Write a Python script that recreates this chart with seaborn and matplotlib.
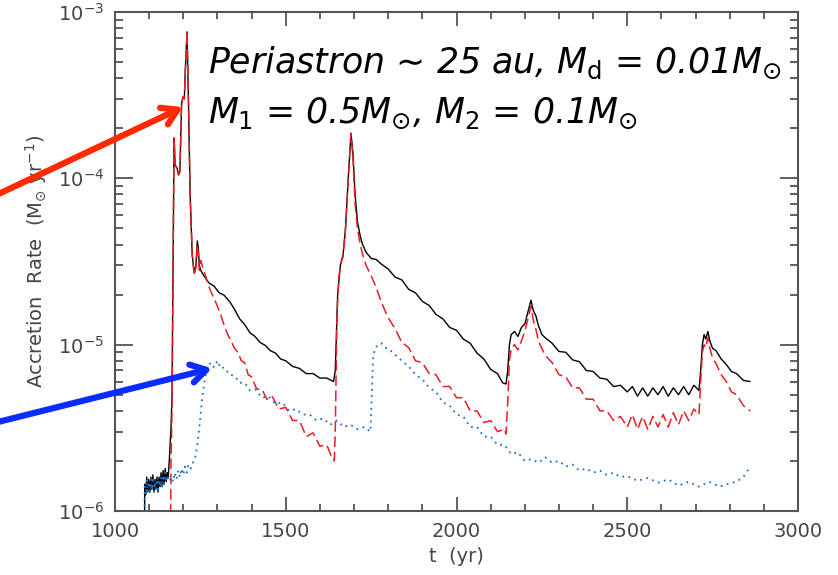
import numpy as np
import pandas as pd
import matplotlib
matplotlib.use("Agg")
import matplotlib.pyplot as plt
import seaborn as sns

# ---------------- data ----------------
t_total = [1085, 1087, 1090, 1093, 1096, 1099, 1102, 1105, 1108, 1111, 1114, 1117, 1120, 1123, 1126,
           1129, 1132, 1135, 1138, 1141, 1144, 1147, 1150, 1153, 1156, 1160, 1164, 1167, 1170, 1173,
           1176, 1182, 1186, 1190, 1195, 1199, 1203, 1206, 1211, 1215, 1220, 1226, 1232, 1237, 1241,
           1244, 1247, 1251, 1260, 1275, 1290, 1305, 1320, 1337, 1350, 1365, 1380, 1395, 1410, 1425,
           1440, 1455, 1470, 1485, 1500, 1520, 1540, 1560, 1580, 1600, 1620, 1640,
           1645, 1652, 1660, 1668, 1675, 1683, 1691, 1697, 1703, 1710, 1718, 1725, 1735, 1750, 1765,
           1780, 1800, 1820, 1840, 1860, 1880, 1900, 1920, 1940, 1960, 1980, 2000, 2020, 2040, 2060,
           2080, 2100, 2120, 2135, 2145,
           2150, 2155, 2160, 2170, 2180, 2190, 2200, 2210, 2218, 2225, 2232, 2240, 2250, 2260, 2280,
           2300, 2320, 2340, 2360, 2380, 2400, 2420, 2440, 2460, 2480, 2500, 2515, 2530, 2545, 2560,
           2575, 2590, 2605, 2620, 2635, 2650, 2665, 2680, 2695, 2710,
           2715, 2720, 2725, 2730, 2736, 2742, 2750, 2760, 2775, 2790, 2805, 2820, 2840, 2860]
rate_total = [1e-7, 1.45e-6, 1.25e-6, 1.6e-6, 1.3e-6, 1.55e-6, 1.3e-6, 1.6e-6, 1.35e-6, 1.65e-6, 1.3e-6,
              1.55e-6, 1.35e-6, 1.6e-6, 1.3e-6, 1.6e-6, 1.4e-6, 1.7e-6, 1.4e-6, 1.75e-6, 1.45e-6, 1.8e-6,
              1.5e-6, 1.7e-6, 1.6e-6, 2.2e-6, 3.2e-6, 5e-6, 3e-5, 1.75e-4,
              1.2e-4, 1.15e-4, 1.05e-4, 1.1e-4, 2.8e-4, 3.1e-4, 3.0e-4, 4.5e-4, 7.6e-4, 3e-4, 8e-5,
              3.5e-5, 2.7e-5, 3.0e-5, 4.2e-5, 3.8e-5, 3.0e-5, 2.8e-5, 2.6e-5, 2.35e-5, 2.25e-5, 2.05e-5,
              1.98e-5, 1.8e-5, 1.63e-5, 1.43e-5, 1.32e-5, 1.18e-5, 1.12e-5, 1.03e-5, 9.9e-6, 9.2e-6,
              8.9e-6, 8.2e-6, 8.0e-6, 7.4e-6, 7.2e-6, 6.7e-6, 6.7e-6, 6.3e-6, 6.3e-6, 6.0e-6,
              7e-6, 2.0e-5, 3.0e-5, 3.5e-5, 5e-5, 1.0e-4, 1.87e-4, 1.4e-4, 8e-5, 5.5e-5, 4.5e-5, 4.0e-5,
              3.6e-5, 3.3e-5, 3.25e-5, 3.05e-5, 2.85e-5, 2.55e-5, 2.45e-5, 2.15e-5, 2.05e-5, 1.82e-5,
              1.72e-5, 1.52e-5, 1.43e-5, 1.27e-5, 1.22e-5, 1.08e-5, 1.02e-5, 8.9e-6, 8.2e-6, 7.1e-6,
              6.7e-6, 5.9e-6, 5.8e-6,
              7e-6, 1.0e-5, 1.15e-5, 1.2e-5, 1.12e-5, 1.27e-5, 1.33e-5, 1.6e-5, 1.85e-5, 1.6e-5,
              1.5e-5, 1.3e-5, 1.15e-5, 1.1e-5, 1.02e-5, 9.1e-6, 9.0e-6, 8.1e-6, 7.9e-6, 7.0e-6, 6.9e-6,
              6.3e-6, 6.2e-6, 5.6e-6, 5.7e-6, 5.2e-6, 5.6e-6, 4.9e-6, 5.5e-6, 4.9e-6, 5.5e-6, 5.0e-6,
              5.6e-6, 4.9e-6, 5.5e-6, 5.0e-6, 5.6e-6, 5.0e-6, 5.7e-6, 5.3e-6,
              7e-6, 1.0e-5, 1.15e-5, 1.08e-5, 1.2e-5, 1.05e-5, 9.5e-6, 9.2e-6, 8.2e-6, 7.6e-6, 6.9e-6,
              6.7e-6, 6.1e-6, 6.0e-6]

t_star1 = [1160, 1164, 1167, 1170, 1173, 1176, 1182, 1186, 1190, 1195, 1199, 1203, 1206, 1211, 1215,
           1220, 1226, 1232, 1237, 1241, 1244, 1247, 1251, 1260, 1270, 1280, 1290, 1300, 1310, 1320,
           1330, 1340, 1350, 1360, 1370, 1380, 1390, 1400, 1415, 1430, 1445, 1460, 1480, 1500, 1520,
           1540, 1560, 1580, 1600, 1620, 1635, 1642,
           1645, 1650, 1655, 1660, 1668, 1675, 1683, 1691, 1697, 1703, 1710, 1718, 1725, 1735, 1750,
           1765, 1780, 1800, 1820, 1840, 1860, 1880, 1900, 1920, 1940, 1960, 1980, 2000, 2020, 2040,
           2060, 2080, 2100, 2120, 2140, 2145,
           2150, 2155, 2160, 2170, 2180, 2190, 2200, 2210, 2218, 2225, 2232, 2240, 2250, 2260, 2280,
           2300, 2320, 2340, 2360, 2380, 2400, 2420, 2440, 2460, 2480, 2500, 2515, 2530, 2545, 2560,
           2575, 2590, 2605, 2620, 2635, 2650, 2665, 2680, 2695, 2710,
           2715, 2720, 2725, 2730, 2736, 2742, 2750, 2760, 2775, 2790, 2805, 2820, 2840, 2860]
rate_star1 = [1e-7, 2e-6, 4e-6, 3e-5, 1.75e-4, 1.2e-4, 1.15e-4, 1.05e-4, 1.1e-4, 2.8e-4, 3.1e-4,
              3.0e-4, 4.5e-4, 7.6e-4, 3e-4, 8e-5, 3.5e-5, 2.6e-5, 2.9e-5, 4.0e-5, 3.5e-5, 2.8e-5,
              3.2e-5, 2.8e-5, 2.4e-5, 2.1e-5, 1.9e-5, 1.7e-5, 1.5e-5, 1.3e-5, 1.15e-5, 1.05e-5,
              9.5e-6, 9.0e-6, 8.0e-6, 7.8e-6, 6.6e-6, 6.4e-6, 5.4e-6, 5.4e-6, 4.7e-6, 4.9e-6, 4.1e-6,
              4.2e-6, 3.5e-6, 3.5e-6, 2.8e-6, 2.95e-6, 2.45e-6, 2.5e-6, 2.1e-6, 2.0e-6,
              3e-6, 1.5e-5, 2.5e-5, 3.0e-5, 3.4e-5, 5e-5, 1.0e-4, 1.85e-4, 1.3e-4, 7e-5, 5e-5, 4e-5,
              3.5e-5, 3.0e-5, 2.6e-5, 2.2e-5, 1.8e-5, 1.45e-5, 1.25e-5, 1.03e-5, 9.6e-6, 8.0e-6,
              7.8e-6, 6.7e-6, 6.6e-6, 5.6e-6, 5.6e-6, 4.8e-6, 4.8e-6, 4.0e-6, 4.0e-6, 3.4e-6, 3.5e-6,
              3.0e-6, 3.1e-6, 2.9e-6,
              4.5e-6, 8e-6, 9.5e-6, 1.0e-5, 9.3e-6, 1.05e-5, 1.2e-5, 1.45e-5, 1.7e-5, 1.4e-5, 1.25e-5,
              1.05e-5, 9.5e-6, 8.6e-6, 7.8e-6, 6.6e-6, 6.4e-6, 5.5e-6, 5.5e-6, 4.7e-6, 4.7e-6, 4.0e-6,
              4.0e-6, 3.5e-6, 3.7e-6, 3.2e-6, 3.8e-6, 3.1e-6, 3.7e-6, 3.1e-6, 3.7e-6, 3.2e-6, 3.8e-6,
              3.2e-6, 3.9e-6, 3.3e-6, 4.0e-6, 3.5e-6, 4.1e-6, 3.8e-6,
              6e-6, 9e-6, 1.0e-5, 9.6e-6, 1.1e-5, 9.5e-6, 8.3e-6, 7.7e-6, 6.6e-6, 6.0e-6, 5.2e-6,
              5.0e-6, 4.3e-6, 4.0e-6]

t_star2 = [1085, 1087, 1090, 1093, 1096, 1099, 1102, 1105, 1108, 1111, 1114, 1117, 1120, 1123, 1126,
           1129, 1132, 1135, 1138, 1141, 1144, 1147, 1150, 1153, 1156, 1160, 1165, 1170, 1175, 1180,
           1185, 1190, 1195, 1200, 1205, 1210, 1215, 1222, 1228, 1235, 1240, 1244, 1249, 1255, 1262,
           1270, 1280, 1290, 1300, 1310, 1320, 1335, 1350, 1365, 1380, 1395, 1410, 1430, 1450, 1470,
           1490, 1510, 1530, 1550, 1570, 1590, 1610, 1630, 1650, 1670, 1690, 1710, 1730, 1748,
           1752, 1756, 1762, 1770, 1780, 1790, 1800, 1820, 1840, 1860, 1880, 1900, 1920, 1940, 1960,
           1980, 2000, 2020, 2040, 2060, 2080, 2100, 2120, 2140, 2160, 2180, 2200, 2220, 2240, 2260,
           2280, 2300, 2320, 2340, 2360, 2380, 2400, 2420, 2440, 2460, 2480, 2500, 2530, 2560, 2590,
           2620, 2650, 2680, 2710, 2740, 2770, 2800, 2820, 2840, 2860]
rate_star2 = [1e-7, 1.4e-6, 1.25e-6, 1.55e-6, 1.3e-6, 1.5e-6, 1.3e-6, 1.55e-6, 1.35e-6, 1.6e-6, 1.3e-6,
              1.5e-6, 1.35e-6, 1.55e-6, 1.3e-6, 1.55e-6, 1.4e-6, 1.6e-6, 1.4e-6, 1.65e-6, 1.45e-6,
              1.7e-6, 1.5e-6, 1.65e-6, 1.55e-6, 1.5e-6, 1.6e-6, 1.5e-6, 1.7e-6, 1.55e-6, 1.75e-6,
              1.6e-6, 1.8e-6, 1.65e-6, 1.85e-6, 1.7e-6, 1.9e-6, 1.8e-6, 1.95e-6, 2.1e-6, 2.4e-6,
              2.8e-6, 3.5e-6, 4.7e-6, 6e-6, 7.3e-6, 7.8e-6, 7.3e-6, 8.0e-6, 7.2e-6, 7.3e-6, 6.6e-6,
              6.5e-6, 5.9e-6, 5.9e-6, 5.3e-6, 5.4e-6, 4.8e-6, 4.9e-6, 4.4e-6, 4.5e-6, 4.0e-6, 4.1e-6,
              3.8e-6, 3.8e-6, 3.5e-6, 3.6e-6, 3.3e-6, 3.5e-6, 3.2e-6, 3.3e-6, 3.1e-6, 3.2e-6, 3.0e-6,
              5e-6, 8.5e-6, 9.5e-6, 1.0e-5, 1.02e-5, 9.6e-6, 9.5e-6, 8.7e-6, 8.0e-6, 7.4e-6, 6.6e-6,
              6.2e-6, 5.5e-6, 5.2e-6, 4.5e-6, 4.3e-6, 3.8e-6, 3.7e-6, 3.2e-6, 3.2e-6, 2.8e-6, 2.8e-6,
              2.5e-6, 2.5e-6, 2.2e-6, 2.25e-6, 2.0e-6, 2.05e-6, 1.95e-6, 2.1e-6, 1.95e-6, 2.0e-6,
              1.85e-6, 1.9e-6, 1.75e-6, 1.8e-6, 1.7e-6, 1.75e-6, 1.65e-6, 1.7e-6, 1.6e-6, 1.62e-6,
              1.52e-6, 1.58e-6, 1.48e-6, 1.55e-6, 1.42e-6, 1.5e-6, 1.4e-6, 1.5e-6, 1.4e-6, 1.47e-6,
              1.5e-6, 1.6e-6, 1.85e-6]

x_ticks = [1000, 1500, 2000, 2500, 3000]
annot_line1 = r"Periastron ∼ 25 au, $M_{\rm d}$ = 0.01$M_{\odot}$"
annot_line2 = r"$M_{\it 1}$ = 0.5$M_{\odot}$, $M_{\it 2}$ = 0.1$M_{\odot}$"
x_label = "t  (yr)"
y_label = r"Accretion  Rate  (M$_{\odot}$ yr$^{-1}$)"

# ---------------- figure ----------------
sns.set_theme(style="ticks")
plt.rcParams["font.family"] = ["DejaVu Sans"]
plt.rcParams["mathtext.fontset"] = "dejavusans"

fig = plt.figure(figsize=(8.38, 5.75), dpi=100)
ax = fig.add_axes([115 / 838, 1 - 511 / 575, (798 - 115) / 838, (511 - 12) / 575])

df_tot = pd.DataFrame({"t": t_total, "rate": rate_total})
df_s1 = pd.DataFrame({"t": t_star1, "rate": rate_star1})
df_s2 = pd.DataFrame({"t": t_star2, "rate": rate_star2})

sns.lineplot(data=df_tot, x="t", y="rate", ax=ax, color="black", lw=1.0, estimator=None, sort=False)
sns.lineplot(data=df_s1, x="t", y="rate", ax=ax, color="#ea1c24", lw=1.1, estimator=None, sort=False,
             dashes=False)
ax.lines[-1].set_dashes([7, 3])
sns.lineplot(data=df_s2, x="t", y="rate", ax=ax, color="#1f6fc8", lw=1.3, estimator=None, sort=False)
ax.lines[-1].set_linestyle((0, (1, 2.5)))

ax.set_yscale("log")
ax.set_xlim(1000, 3000)
ax.set_ylim(1e-6, 1e-3)
ax.set_xticks(x_ticks)
ax.xaxis.set_minor_locator(matplotlib.ticker.MultipleLocator(100))

grey = "#444444"
for s in ax.spines.values():
    s.set_color("#555555")
    s.set_linewidth(1.5)
ax.tick_params(which="both", direction="in", top=True, right=True, colors="#555555",
               labelcolor=grey, labelsize=14, width=1.3)
ax.tick_params(which="major", length=10, pad=8)
ax.tick_params(axis="y", which="major", length=13)
ax.tick_params(which="minor", length=5)
ax.tick_params(axis="y", which="minor", length=6)

ax.set_xlabel(x_label, color=grey, fontsize=14, labelpad=4)
ax.set_ylabel(y_label, color=grey, fontsize=14, labelpad=6)

# annotation text
fig.text(208 / 838, 1 - 73 / 575, annot_line1, fontsize=25, style="italic", color="black",
         va="baseline", ha="left")
fig.text(208 / 838, 1 - 123 / 575, annot_line2, fontsize=25, style="italic", color="black",
         va="baseline", ha="left")

# arrows
ax.annotate("", xy=(1199, 2.68e-4), xycoords="data", xytext=(-10, 575 - 198),
            textcoords="figure pixels", annotation_clip=False,
            arrowprops=dict(arrowstyle="->,head_length=0.9,head_width=0.55", lw=4.5,
                            color="#ff2a00", shrinkA=0, shrinkB=0))
ax.annotate("", xy=(1284, 7.2e-6), xycoords="data", xytext=(-10, 575 - 424),
            textcoords="figure pixels", annotation_clip=False,
            arrowprops=dict(arrowstyle="->,head_length=0.9,head_width=0.55", lw=4.5,
                            color="#0a2cff", shrinkA=0, shrinkB=0))

fig.savefig("out.png", dpi=100)
